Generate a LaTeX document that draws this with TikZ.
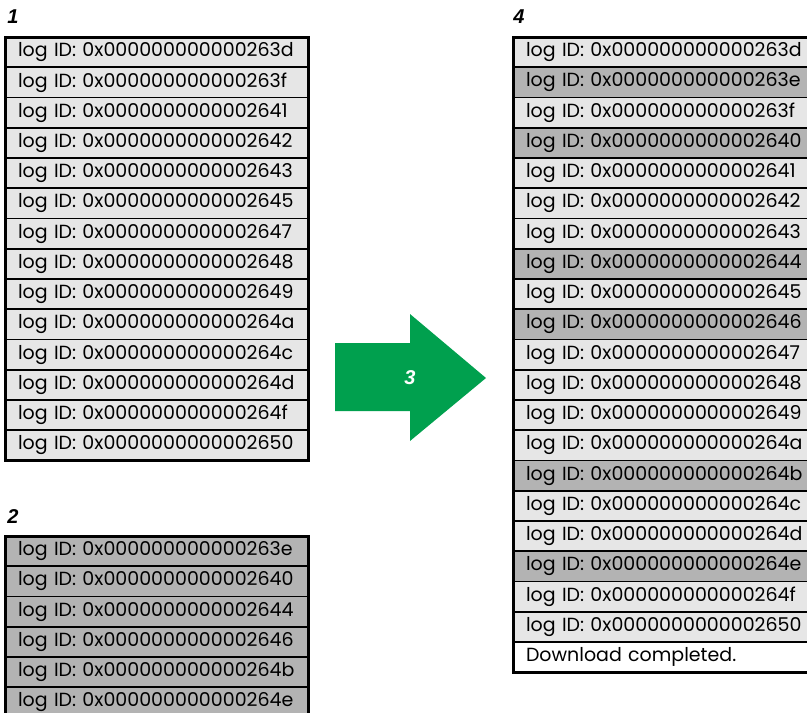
\documentclass[tikz,border=0pt]{standalone}
\usepackage{fontspec}
\setmainfont{Poppins}
\newfontfamily\labelfont{Liberation Sans}
\usetikzlibrary{positioning}
\definecolor{rowlight}{HTML}{E6E6E6}
\definecolor{rowdark}{HTML}{B3B3B3}
\definecolor{stepgreen}{HTML}{00A04E}

\begin{document}
\begin{tikzpicture}[
    x=1pt, y=-1pt,
    row/.style={draw, line width=1.8pt, outer sep=0pt, anchor=north west,
      minimum width=303pt, minimum height=30.25pt, inner xsep=13pt,
      text width=277pt, align=left, font=\fontsize{19}{19}\selectfont},
    lightrow/.style={row, fill=rowlight},
    darkrow/.style={row, fill=rowdark},
    donerow/.style={row, fill=white},
    steplabel/.style={font=\labelfont\bfseries\itshape\fontsize{20}{20}\selectfont},
    frame/.style={draw, line width=3pt}
]
\useasboundingbox (0,0) rectangle (807,713);

% 1: logs already on the device
\node[steplabel] (s1) at (13,17) {1};
\foreach \id [count=\i from 0] in {263d,263f,2641,2642,2643,2645,2647,2648,2649,264a,264c,264d,264f,2650}
  \node[lightrow] (a\i) at (5,37+30.25*\i) {log ID: 0x000000000000\id};
\draw[frame] (a0.north west) rectangle (a13.south east);

% 2: missing logs
\node[steplabel] (s2) at (13,517) {2};
\foreach \id [count=\i from 0] in {263e,2640,2644,2646,264b,264e}
  \node[darkrow] (b\i) at (5,536+30.25*\i) {log ID: 0x000000000000\id};
\draw[frame] (b0.north west) rectangle (b5.south east);

% 3: merge
\fill[stepgreen] (335,343) -- (410,343) -- (410,314) -- (486,378)
  -- (410,441) -- (410,411) -- (335,411) -- cycle;
\node[steplabel, text=white] (s3) at (410,378) {3};

% 4: merged result
\node[steplabel] (s4) at (519,17) {4};
\foreach \id/\shade [count=\i from 0] in {263d/lightrow,263e/darkrow,263f/lightrow,2640/darkrow,
    2641/lightrow,2642/lightrow,2643/lightrow,2644/darkrow,2645/lightrow,2646/darkrow,
    2647/lightrow,2648/lightrow,2649/lightrow,264a/lightrow,264b/darkrow,264c/lightrow,
    264d/lightrow,264e/darkrow,264f/lightrow,2650/lightrow}
  \node[style=\shade] (c\i) at (513,37+30.25*\i) {log ID: 0x000000000000\id};
\node[donerow, below=0pt of c19.south west, anchor=north west] (c20) {Download completed.};
\draw[frame] (c0.north west) rectangle (c20.south east);
\end{tikzpicture}
\end{document}
